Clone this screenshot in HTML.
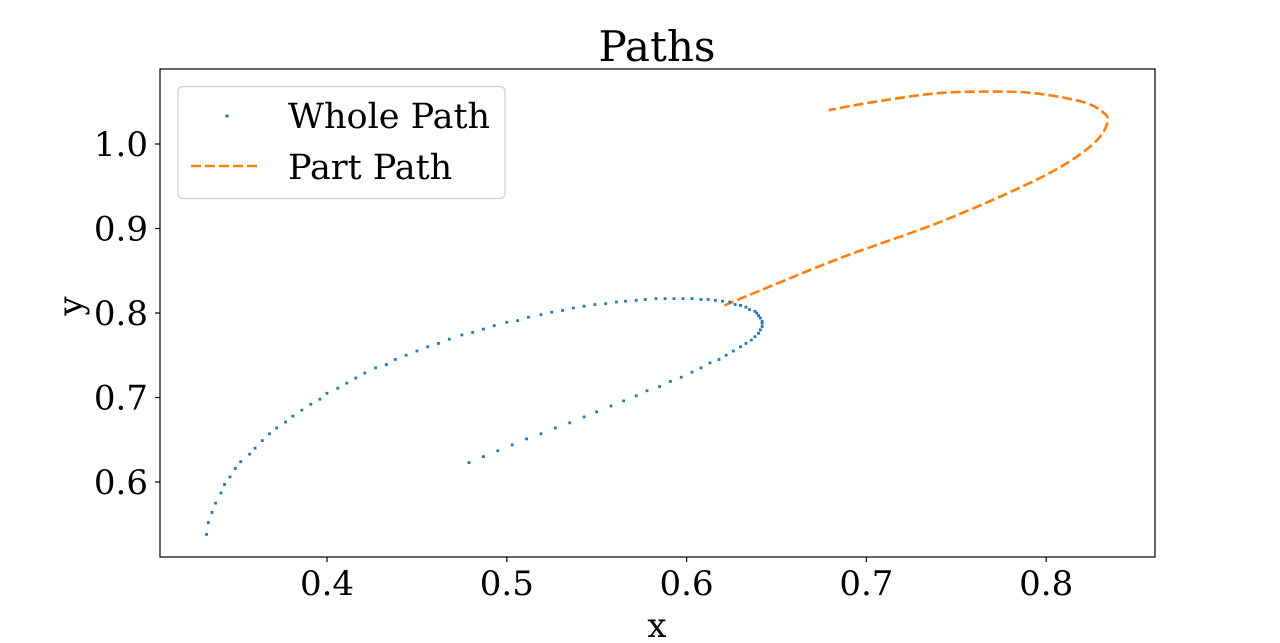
<!DOCTYPE html>
<html><head><meta charset="utf-8"><style>
html,body{margin:0;padding:0;background:#fff;}
svg{display:block;font-family:"DejaVu Serif","Liberation Serif",serif;}
</style></head><body>
<svg id="chart" width="1280" height="643" viewBox="0 0 1280 643">
<text x="657" y="61" font-size="42" text-anchor="middle">Paths</text>
<g id="marks"></g>
<rect x="160" y="69" width="995" height="488" fill="none" stroke="#000" stroke-width="1.2"/>
<g id="axes"></g>
<text x="657" y="637" font-size="34" text-anchor="middle">x</text>
<text transform="translate(82,306) rotate(-90)" font-size="34" text-anchor="middle">y</text>
<g>
<rect x="178" y="86.5" width="327" height="112" rx="5" fill="#fff" fill-opacity="0.8" stroke="#d0d0d0" stroke-width="1.2"/>
<rect x="225.5" y="114.5" width="3" height="3" fill="#1f77b4"/>
<text x="288" y="128" font-size="35">Whole Path</text>
<line x1="191" y1="166" x2="260" y2="166" stroke="#ff7f0e" stroke-width="2.6" stroke-dasharray="10 4"/>
<text x="288" y="179" font-size="35">Part Path</text>
</g>
</svg>
<script>
const xTicks = [0.4, 0.5, 0.6, 0.7, 0.8];
const yTicks = [0.6, 0.7, 0.8, 0.9, 1.0];
const wholeX = [0.333,0.334,0.336,0.338,0.341,0.343,0.346,0.349,0.352,0.357,0.360,0.364,0.368,0.372,0.377,0.381,0.386,0.391,0.396,0.400,0.406,0.411,0.416,0.421,0.427,0.433,0.438,0.444,0.450,0.456,0.462,0.468,0.475,0.481,0.487,0.493,0.500,0.506,0.512,0.519,0.525,0.531,0.537,0.543,0.549,0.555,0.561,0.566,0.572,0.577,0.583,0.588,0.593,0.598,0.603,0.608,0.612,0.616,0.620,0.624,0.627,0.630,0.633,0.635,0.638,0.639,0.640,0.641,0.642,0.642,0.642,0.641,0.640,0.638,0.636,0.633,0.630,0.626,0.622,0.618,0.613,0.608,0.603,0.597,0.591,0.585,0.578,0.572,0.565,0.558,0.550,0.543,0.535,0.527,0.519,0.511,0.503,0.495,0.487,0.479];
const wholeY = [0.538,0.552,0.564,0.575,0.587,0.597,0.606,0.616,0.624,0.633,0.640,0.649,0.657,0.664,0.671,0.678,0.685,0.692,0.698,0.705,0.711,0.717,0.723,0.729,0.735,0.739,0.745,0.750,0.755,0.760,0.764,0.769,0.774,0.777,0.781,0.785,0.789,0.791,0.795,0.798,0.801,0.803,0.806,0.808,0.810,0.811,0.813,0.814,0.815,0.816,0.817,0.817,0.817,0.817,0.817,0.816,0.816,0.815,0.814,0.813,0.810,0.809,0.807,0.804,0.802,0.800,0.797,0.794,0.790,0.788,0.784,0.780,0.776,0.772,0.768,0.764,0.760,0.755,0.750,0.745,0.741,0.735,0.730,0.724,0.719,0.713,0.708,0.702,0.696,0.690,0.683,0.677,0.670,0.664,0.657,0.651,0.644,0.637,0.630,0.623];
const partX = [0.621,0.683,0.739,0.786,0.812,0.828,0.834,0.832,0.820,0.794,0.772,0.739,0.702,0.679];
const partY = [0.809,0.863,0.906,0.949,0.978,1.004,1.025,1.037,1.050,1.060,1.062,1.060,1.049,1.040];

const NS = 'http://www.w3.org/2000/svg';
function sx(v){ return 327 + (v - 0.4) * 1798; }
function sy(v){ return 313 - (v - 0.8) * 845; }

const axes = document.getElementById('axes');
const marks = document.getElementById('marks');

xTicks.forEach(function(t){
  const l = document.createElementNS(NS,'line');
  l.setAttribute('x1', sx(t)); l.setAttribute('x2', sx(t));
  l.setAttribute('y1', 557); l.setAttribute('y2', 562);
  l.setAttribute('stroke','#000'); l.setAttribute('stroke-width','1.2');
  
  
  axes.appendChild(l);
  const tx = document.createElementNS(NS,'text');
  tx.setAttribute('x', sx(t)); tx.setAttribute('y', 595);
  tx.setAttribute('font-size','34'); tx.setAttribute('text-anchor','middle');
  tx.textContent = t.toFixed(1);
  
  
  axes.appendChild(tx);
});
yTicks.forEach(function(t){
  const l = document.createElementNS(NS,'line');
  l.setAttribute('x1', 155); l.setAttribute('x2', 160);
  l.setAttribute('y1', sy(t)); l.setAttribute('y2', sy(t));
  l.setAttribute('stroke','#000'); l.setAttribute('stroke-width','1.2');
  
  
  axes.appendChild(l);
  const tx = document.createElementNS(NS,'text');
  tx.setAttribute('x', 148); tx.setAttribute('y', sy(t) + 12);
  tx.setAttribute('font-size','34'); tx.setAttribute('text-anchor','end');
  tx.textContent = t.toFixed(1);
  
  
  axes.appendChild(tx);
});

const pts = partX.map(function(x,i){ return [sx(x), sy(partY[i])]; });
let d = 'M' + pts[0][0] + ',' + pts[0][1];
for (let i = 0; i < pts.length - 1; i++) {
  const p0 = pts[Math.max(0,i-1)], p1 = pts[i], p2 = pts[i+1], p3 = pts[Math.min(pts.length-1,i+2)];
  const c1x = p1[0] + (p2[0]-p0[0])/6, c1y = p1[1] + (p2[1]-p0[1])/6;
  const c2x = p2[0] - (p3[0]-p1[0])/6, c2y = p2[1] - (p3[1]-p1[1])/6;
  d += ' C' + c1x + ',' + c1y + ' ' + c2x + ',' + c2y + ' ' + p2[0] + ',' + p2[1];
}
const path = document.createElementNS(NS,'path');
path.setAttribute('d', d);
path.setAttribute('fill','none'); path.setAttribute('stroke','#ff7f0e');
path.setAttribute('stroke-width','2.6'); path.setAttribute('stroke-dasharray','10 4');


marks.appendChild(path);

wholeX.forEach(function(x,i){
  const r = document.createElementNS(NS,'rect');
  r.setAttribute('x', sx(x) - 1.4); r.setAttribute('y', sy(wholeY[i]) - 1.4);
  r.setAttribute('width', 2.8); r.setAttribute('height', 2.8);
  r.setAttribute('fill','#1f77b4');
  
  
  marks.appendChild(r);
});
</script>
</body></html>
